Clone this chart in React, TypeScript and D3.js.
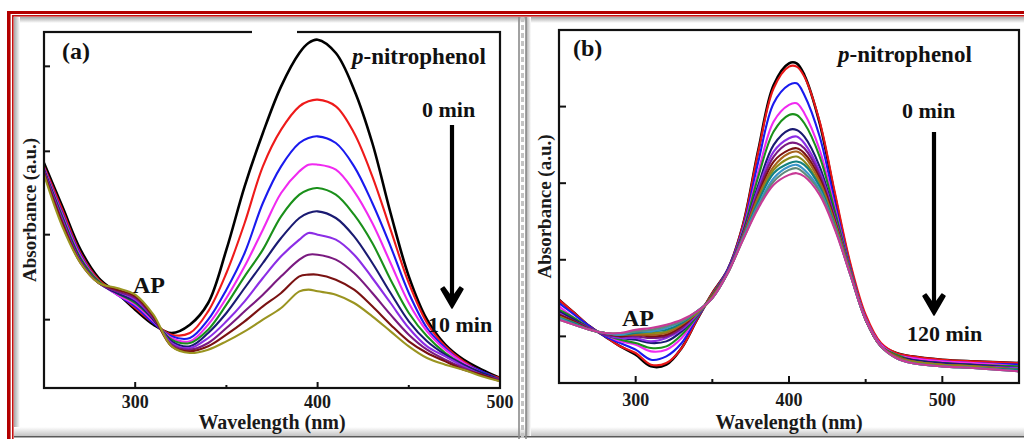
import React, { useEffect } from "react";
import * as d3 from "d3";

const FONT = '"Liberation Serif", "Times New Roman", Times, serif';

// ---------------- Panel (a) data ----------------
const WL_A = [250, 260, 270, 280, 290, 300, 310, 320, 330, 340, 350, 360, 370, 380, 390, 395, 400, 410, 420, 430, 440, 450, 460, 470, 480, 490, 500];
const A_T0 = [1.35, 1.09, 0.83, 0.66, 0.57, 0.47, 0.38, 0.33, 0.38, 0.51, 0.83, 1.21, 1.53, 1.81, 2.01, 2.07, 2.09, 2.01, 1.79, 1.47, 1.05, 0.67, 0.41, 0.26, 0.17, 0.11, 0.06];
const A_T1 = [1.33, 1.07, 0.81, 0.65, 0.57, 0.48, 0.39, 0.32, 0.33, 0.46, 0.69, 0.99, 1.33, 1.55, 1.69, 1.72, 1.73, 1.69, 1.53, 1.27, 0.95, 0.63, 0.39, 0.25, 0.16, 0.10, 0.06];
const A_T2 = [1.32, 1.05, 0.80, 0.64, 0.56, 0.49, 0.39, 0.31, 0.30, 0.41, 0.59, 0.81, 1.11, 1.33, 1.47, 1.50, 1.51, 1.47, 1.33, 1.11, 0.85, 0.57, 0.36, 0.24, 0.15, 0.10, 0.05];
const A_T3 = [1.32, 1.04, 0.79, 0.64, 0.56, 0.50, 0.40, 0.30, 0.28, 0.38, 0.54, 0.73, 0.95, 1.17, 1.30, 1.34, 1.34, 1.31, 1.18, 0.99, 0.75, 0.51, 0.34, 0.23, 0.15, 0.09, 0.05];
const A_T4 = [1.31, 1.03, 0.78, 0.64, 0.57, 0.51, 0.41, 0.29, 0.27, 0.35, 0.50, 0.67, 0.83, 1.03, 1.16, 1.19, 1.20, 1.16, 1.04, 0.87, 0.65, 0.45, 0.31, 0.21, 0.14, 0.09, 0.05];
const A_T5 = [1.31, 1.02, 0.77, 0.63, 0.57, 0.52, 0.41, 0.28, 0.25, 0.33, 0.45, 0.60, 0.75, 0.90, 1.02, 1.05, 1.06, 1.02, 0.91, 0.75, 0.57, 0.40, 0.28, 0.20, 0.14, 0.09, 0.05];
const A_T6 = [1.30, 1.01, 0.76, 0.63, 0.58, 0.53, 0.42, 0.27, 0.24, 0.30, 0.40, 0.52, 0.66, 0.79, 0.89, 0.93, 0.92, 0.89, 0.80, 0.66, 0.51, 0.36, 0.25, 0.19, 0.13, 0.08, 0.05];
const A_T7 = [1.30, 1.00, 0.76, 0.63, 0.58, 0.54, 0.42, 0.26, 0.23, 0.27, 0.36, 0.46, 0.56, 0.67, 0.77, 0.80, 0.80, 0.77, 0.69, 0.57, 0.44, 0.32, 0.23, 0.17, 0.12, 0.08, 0.05];
const A_T8 = [1.29, 0.99, 0.75, 0.63, 0.59, 0.55, 0.43, 0.25, 0.22, 0.25, 0.32, 0.40, 0.49, 0.57, 0.67, 0.68, 0.68, 0.65, 0.59, 0.49, 0.38, 0.28, 0.21, 0.16, 0.11, 0.08, 0.04];
const A_T9 = [1.28, 0.97, 0.75, 0.63, 0.60, 0.56, 0.44, 0.25, 0.21, 0.23, 0.28, 0.34, 0.41, 0.48, 0.58, 0.59, 0.58, 0.56, 0.51, 0.43, 0.34, 0.25, 0.18, 0.14, 0.11, 0.07, 0.04];
const SERIES_A = [A_T0, A_T1, A_T2, A_T3, A_T4, A_T5, A_T6, A_T7, A_T8, A_T9];
const COLORS_A = ["#000000", "#ee1a1a", "#1a1aee", "#f02af0", "#1a901a", "#1a1a72", "#8c2ee6", "#7a1a80", "#7a1212", "#9a9420"];
const XMAJOR_A = [300, 400, 500];
const XMINOR_A = [350, 450];
const YTICKS_A = [0.41, 0.92, 1.42, 1.93];

// ---------------- Panel (b) data ----------------
const WL_B = [250, 260, 270, 280, 290, 300, 310, 320, 330, 340, 350, 360, 370, 380, 390, 400, 405, 410, 420, 430, 440, 450, 460, 470, 480, 500, 520, 550];
const B_T0 = [0.50, 0.42, 0.34, 0.28, 0.22, 0.17, 0.10, 0.11, 0.21, 0.38, 0.54, 0.68, 0.95, 1.40, 1.79, 1.92, 1.92, 1.85, 1.56, 1.12, 0.70, 0.39, 0.23, 0.18, 0.16, 0.14, 0.13, 0.12];
const B_T1 = [0.50, 0.42, 0.34, 0.28, 0.22, 0.18, 0.11, 0.12, 0.21, 0.38, 0.54, 0.68, 0.95, 1.39, 1.77, 1.90, 1.90, 1.84, 1.57, 1.14, 0.72, 0.41, 0.24, 0.18, 0.16, 0.14, 0.13, 0.12];
const B_T2 = [0.48, 0.41, 0.34, 0.28, 0.24, 0.20, 0.14, 0.16, 0.24, 0.39, 0.53, 0.68, 0.93, 1.33, 1.68, 1.79, 1.80, 1.73, 1.48, 1.08, 0.69, 0.39, 0.23, 0.17, 0.15, 0.13, 0.12, 0.11];
const B_T3 = [0.46, 0.39, 0.33, 0.29, 0.25, 0.23, 0.19, 0.20, 0.27, 0.40, 0.53, 0.67, 0.92, 1.27, 1.57, 1.67, 1.68, 1.62, 1.40, 1.05, 0.68, 0.39, 0.23, 0.17, 0.15, 0.13, 0.12, 0.10];
const B_T4 = [0.44, 0.39, 0.33, 0.29, 0.26, 0.24, 0.21, 0.22, 0.29, 0.40, 0.53, 0.67, 0.91, 1.24, 1.51, 1.61, 1.61, 1.56, 1.36, 1.03, 0.68, 0.38, 0.22, 0.17, 0.14, 0.12, 0.11, 0.10];
const B_T5 = [0.43, 0.38, 0.33, 0.29, 0.27, 0.26, 0.24, 0.25, 0.31, 0.41, 0.52, 0.67, 0.90, 1.19, 1.43, 1.52, 1.52, 1.48, 1.30, 1.00, 0.67, 0.38, 0.22, 0.16, 0.14, 0.12, 0.11, 0.09];
const B_T6 = [0.42, 0.37, 0.33, 0.29, 0.27, 0.27, 0.25, 0.27, 0.32, 0.41, 0.52, 0.67, 0.89, 1.17, 1.39, 1.47, 1.48, 1.44, 1.27, 0.99, 0.67, 0.38, 0.22, 0.16, 0.13, 0.11, 0.10, 0.09];
const B_T7 = [0.41, 0.37, 0.33, 0.29, 0.28, 0.28, 0.27, 0.28, 0.33, 0.42, 0.52, 0.67, 0.89, 1.15, 1.36, 1.44, 1.44, 1.41, 1.25, 0.98, 0.66, 0.38, 0.22, 0.16, 0.13, 0.11, 0.10, 0.08];
const B_T8 = [0.41, 0.37, 0.32, 0.30, 0.28, 0.29, 0.28, 0.29, 0.34, 0.42, 0.52, 0.66, 0.88, 1.13, 1.33, 1.40, 1.41, 1.38, 1.23, 0.97, 0.66, 0.38, 0.22, 0.16, 0.13, 0.11, 0.10, 0.08];
const B_T9 = [0.40, 0.36, 0.32, 0.30, 0.29, 0.29, 0.29, 0.30, 0.35, 0.42, 0.52, 0.66, 0.88, 1.12, 1.30, 1.38, 1.39, 1.36, 1.21, 0.96, 0.66, 0.38, 0.22, 0.16, 0.13, 0.11, 0.10, 0.08];
const B_T10 = [0.40, 0.36, 0.32, 0.30, 0.29, 0.30, 0.30, 0.31, 0.36, 0.42, 0.51, 0.66, 0.87, 1.10, 1.28, 1.35, 1.36, 1.33, 1.19, 0.95, 0.66, 0.38, 0.22, 0.15, 0.13, 0.11, 0.10, 0.08];
const B_T11 = [0.39, 0.36, 0.32, 0.30, 0.29, 0.30, 0.31, 0.32, 0.36, 0.43, 0.51, 0.66, 0.87, 1.09, 1.26, 1.32, 1.33, 1.31, 1.18, 0.94, 0.65, 0.38, 0.22, 0.15, 0.12, 0.10, 0.09, 0.08];
const B_T12 = [0.39, 0.35, 0.32, 0.30, 0.29, 0.31, 0.31, 0.33, 0.37, 0.43, 0.51, 0.66, 0.87, 1.07, 1.23, 1.30, 1.31, 1.28, 1.16, 0.93, 0.65, 0.38, 0.22, 0.15, 0.12, 0.10, 0.09, 0.07];
const B_T13 = [0.38, 0.35, 0.32, 0.30, 0.30, 0.31, 0.32, 0.34, 0.37, 0.43, 0.51, 0.66, 0.86, 1.06, 1.21, 1.28, 1.29, 1.26, 1.15, 0.93, 0.65, 0.38, 0.22, 0.15, 0.12, 0.10, 0.09, 0.07];
const B_T14 = [0.38, 0.35, 0.32, 0.30, 0.30, 0.32, 0.33, 0.35, 0.38, 0.43, 0.51, 0.66, 0.86, 1.05, 1.19, 1.25, 1.26, 1.24, 1.13, 0.92, 0.65, 0.38, 0.22, 0.15, 0.12, 0.10, 0.09, 0.07];
const SERIES_B = [B_T0, B_T1, B_T2, B_T3, B_T4, B_T5, B_T6, B_T7, B_T8, B_T9, B_T10, B_T11, B_T12, B_T13, B_T14];
const COLORS_B = ["#000000", "#e81616", "#1a1aee", "#f02af0", "#1a901a", "#1a1a72", "#8c2ee6", "#7a1a80", "#7a1212", "#a8641e", "#8a8a1a", "#128080", "#3a94c8", "#5f8a7a", "#c83a96"];
const XMAJOR_B = [300, 400, 500];
const XMINOR_B = [350, 450];
const YTICKS_B = [0.28, 0.74, 1.2, 1.66];

type PanelProps = {
  id: string;
  x0: number; x1: number; y0: number; y1: number;
  xDomain: [number, number]; yDomain: [number, number];
  wl: number[]; series: number[][]; colors: string[];
  xMajor: number[]; xMinor: number[]; yTicks: number[];
  majorLen: number; minorLen: number; yLen: number;
  tickLabelY: number; axisLabelY: number; yLabelX: number;
};

function Panel(p: PanelProps) {
  const xs = d3.scaleLinear().domain(p.xDomain).range([p.x0, p.x1]);
  const ys = d3.scaleLinear().domain(p.yDomain).range([p.y1, p.y0]);
  const line = d3
    .line<number>()
    .x((_, i) => xs(p.wl[i]))
    .y((d) => ys(d))
    .curve(d3.curveCatmullRom.alpha(0.5));
  const cx = (p.x0 + p.x1) / 2;
  const cy = (p.y0 + p.y1) / 2;
  return (
    <g>
      <defs>
        <clipPath id={`clip-${p.id}`}>
          <rect x={p.x0} y={p.y0} width={p.x1 - p.x0} height={p.y1 - p.y0} />
        </clipPath>
      </defs>
      <rect x={p.x0} y={p.y0} width={p.x1 - p.x0} height={p.y1 - p.y0} fill="#ffffff" />
      <g clipPath={`url(#clip-${p.id})`}>
        {p.series.map((s, i) => (
          <path
            key={i}
            d={line(s) || ""}
            fill="none"
            stroke={p.colors[i]}
            strokeWidth={i === 0 ? 2.6 : 2.1}
            strokeLinejoin="round"
            strokeLinecap="round"
          />
        ))}
      </g>
      <rect x={p.x0} y={p.y0} width={p.x1 - p.x0} height={p.y1 - p.y0} fill="none" stroke="#111" strokeWidth={2.2} />
      {p.xMajor.map((t) => (
        <line key={`M${t}`} x1={xs(t)} x2={xs(t)} y1={p.y1} y2={p.y1 - p.majorLen} stroke="#111" strokeWidth={2} />
      ))}
      {p.xMinor.map((t) => (
        <line key={`m${t}`} x1={xs(t)} x2={xs(t)} y1={p.y1} y2={p.y1 - p.minorLen} stroke="#111" strokeWidth={2} />
      ))}
      {p.yTicks.map((t) => (
        <line key={`y${t}`} x1={p.x0} x2={p.x0 + p.yLen} y1={ys(t)} y2={ys(t)} stroke="#111" strokeWidth={2} />
      ))}
      {p.xMajor.map((t) => (
        <text key={`L${t}`} x={xs(t)} y={p.tickLabelY} textAnchor="middle" fontFamily={FONT} fontWeight="bold" fontSize={18} fill="#1a1a1a">
          {t}
        </text>
      ))}
      <text x={cx} y={p.axisLabelY} textAnchor="middle" fontFamily={FONT} fontWeight="bold" fontSize={20} fill="#1a1a1a">
        Wavelength (nm)
      </text>
      <text
        transform={`translate(${p.yLabelX},${cy}) rotate(-90)`}
        textAnchor="middle"
        fontFamily={FONT}
        fontWeight="bold"
        fontSize={19}
        fill="#1a1a1a"
      >
        Absorbance (a.u.)
      </text>
    </g>
  );
}

function Arrow({ x, yTop, yTip }: { x: number; yTop: number; yTip: number }) {
  return (
    <g>
      <line x1={x} x2={x} y1={yTop} y2={yTip - 8} stroke="#000" strokeWidth={4.2} />
      <path
        d={`M${x},${yTip} L${x - 11},${yTip - 19} L${x - 8},${yTip - 21} L${x},${yTip - 10} L${x + 8},${yTip - 21} L${x + 11},${yTip - 19} Z`}
        fill="#000"
        stroke="#000"
        strokeWidth={1.5}
        strokeLinejoin="round"
      />
    </g>
  );
}

function Label({ x, y, size, children }: { x: number; y: number; size: number; children: React.ReactNode }) {
  return (
    <text x={x} y={y} fontFamily={FONT} fontWeight="bold" fontSize={size} fill="#111">
      {children}
    </text>
  );
}

export default function App() {
  useEffect(() => {
    document.body.style.margin = "0";
  }, []);
  return (
    <svg width={1024} height={439} style={{ position: "absolute", left: 0, top: 0, display: "block" }}>
      <defs>
        <linearGradient id="shTop" x1="0" y1="0" x2="0" y2="1">
          <stop offset="0" stopColor="#a8a8a8" />
          <stop offset="1" stopColor="#ffffff" />
        </linearGradient>
        <linearGradient id="shLeft" x1="0" y1="0" x2="1" y2="0">
          <stop offset="0" stopColor="#a8a8a8" />
          <stop offset="1" stopColor="#ffffff" />
        </linearGradient>
        <linearGradient id="shBottom" x1="0" y1="0" x2="0" y2="1">
          <stop offset="0" stopColor="#ffffff" />
          <stop offset="1" stopColor="#c4c4c4" />
        </linearGradient>
      </defs>
      <rect x={0} y={0} width={1024} height={439} fill="#ffffff" />
      {/* inner shading */}
      <rect x={14} y={17} width={1010} height={6} fill="url(#shTop)" />
      <rect x={14} y={17} width={6} height={420} fill="url(#shLeft)" />
      <rect x={14} y={427} width={1010} height={9} fill="url(#shBottom)" />
      <rect x={526} y={17} width={5} height={420} fill="url(#shLeft)" />
      <line x1={14} x2={1024} y1={436.8} y2={436.8} stroke="#5a5a5a" strokeWidth={1.6} />

      <Panel
        id="a"
        x0={44} x1={500} y0={32} y1={388}
        xDomain={[250, 500]} yDomain={[0, 2.136]}
        wl={WL_A} series={SERIES_A} colors={COLORS_A}
        xMajor={XMAJOR_A} xMinor={XMINOR_A} yTicks={YTICKS_A}
        majorLen={6} minorLen={3} yLen={6}
        tickLabelY={408} axisLabelY={429} yLabelX={36}
      />
      <Panel
        id="b"
        x0={559} x1={1019} y0={30} y1={383}
        xDomain={[250, 550]} yDomain={[0, 2.12]}
        wl={WL_B} series={SERIES_B} colors={COLORS_B}
        xMajor={XMAJOR_B} xMinor={XMINOR_B} yTicks={YTICKS_B}
        majorLen={7} minorLen={4} yLen={7}
        tickLabelY={406} axisLabelY={429} yLabelX={551}
      />
      {/* gap in the top frame of panel (a) */}
      <rect x={252} y={30} width={45} height={5} fill="#ffffff" />

      {/* panel (a) annotations */}
      <Label x={62} y={59} size={24}>(a)</Label>
      <Label x={352} y={64} size={23}>
        <tspan fontStyle="italic">p</tspan>-nitrophenol
      </Label>
      <Label x={422} y={117} size={22}>0 min</Label>
      <Arrow x={452} yTop={125} yTip={308} />
      <Label x={428} y={332} size={22}>10 min</Label>
      <Label x={133} y={293} size={24}>AP</Label>

      {/* panel (b) annotations */}
      <Label x={573} y={56} size={24}>(b)</Label>
      <Label x={838} y={62} size={23}>
        <tspan fontStyle="italic">p</tspan>-nitrophenol
      </Label>
      <Label x={902} y={118} size={22}>0 min</Label>
      <Arrow x={934} yTop={132} yTip={315} />
      <Label x={907} y={341} size={22}>120 min</Label>
      <Label x={622} y={326} size={24}>AP</Label>

      {/* divider between panels */}
      <line x1={519} x2={519} y1={17} y2={439} stroke="#8a8a8a" strokeWidth={1.6} />
      <line x1={522.5} x2={522.5} y1={17} y2={439} stroke="#c4c4c4" strokeWidth={3} strokeDasharray="5 3" />
      <line x1={526} x2={526} y1={17} y2={439} stroke="#8a8a8a" strokeWidth={1.6} />

      {/* red double border */}
      <rect x={7} y={11} width={1017} height={3} fill="#b30000" />
      <rect x={12} y={15} width={1012} height={1.6} fill="#c41010" />
      <rect x={7} y={11} width={3.6} height={428} fill="#b30000" />
      <rect x={12} y={15} width={1.6} height={424} fill="#c41010" />
    </svg>
  );
}
